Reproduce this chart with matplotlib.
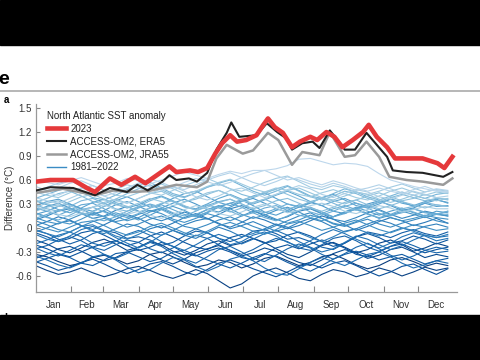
import numpy as np
import matplotlib
matplotlib.use("Agg")
import matplotlib.pyplot as plt
from matplotlib.patches import Rectangle
from matplotlib.lines import Line2D

plt.rcParams['font.family'] = ['Liberation Sans', 'DejaVu Sans']

# --- data (day of year / anomaly, degC) ---
red_days = [2, 14, 34, 46, 53, 66, 76, 88, 97, 107, 118, 124, 136, 143, 151, 158, 164, 171,
            177, 185, 194, 200, 204, 210, 217, 225, 232, 241, 247, 255, 262, 269, 278, 287,
            292, 299, 308, 315, 325, 339, 352, 358, 365]
red_vals = [0.58, 0.60, 0.60, 0.50, 0.45, 0.62, 0.54, 0.64, 0.56, 0.66, 0.77, 0.70, 0.72, 0.70,
            0.75, 0.93, 1.06, 1.16, 1.08, 1.10, 1.16, 1.29, 1.37, 1.26, 1.19, 1.01, 1.08, 1.14,
            1.10, 1.20, 1.14, 1.01, 1.10, 1.20, 1.29, 1.14, 1.01, 0.87, 0.87, 0.87, 0.81, 0.75, 0.89]

era5_days = [2, 14, 34, 53, 66, 81, 90, 99, 112, 118, 124, 135, 142, 151, 159, 168, 172, 179,
             194, 203, 212, 220, 225, 234, 243, 249, 258, 267, 271, 280, 290, 299, 308, 313,
             325, 339, 357, 365]
era5_vals = [0.47, 0.51, 0.50, 0.41, 0.50, 0.45, 0.54, 0.47, 0.58, 0.66, 0.60, 0.62, 0.58, 0.69,
             0.98, 1.19, 1.32, 1.14, 1.16, 1.31, 1.20, 1.12, 0.98, 1.06, 1.08, 1.00, 1.22, 1.06,
             0.98, 0.98, 1.19, 1.04, 0.89, 0.72, 0.70, 0.69, 0.64, 0.70]

jra55_days = [2, 25, 53, 69, 83, 99, 124, 142, 151, 159, 168, 173, 182, 191, 204, 213, 225,
              234, 249, 258, 271, 280, 290, 301, 310, 325, 339, 357, 365]
jra55_vals = [0.44, 0.49, 0.41, 0.47, 0.45, 0.46, 0.54, 0.51, 0.58, 0.87, 1.04, 1.00, 0.93,
              0.97, 1.19, 1.10, 0.79, 0.95, 0.91, 1.20, 0.89, 0.91, 1.08, 0.89, 0.64, 0.60,
              0.58, 0.54, 0.62]

# 1981-2022, one row per year, read every 10 days (day 1, 11, ..., 361)
hist_years = list(range(1981, 2023))
hist_days = list(range(1, 366, 10))
hist_vals = [
    [-0.33, -0.36, -0.42, -0.47, -0.44, -0.37, -0.34, -0.39, -0.45, -0.41, -0.33, -0.30, -0.36, -0.43, -0.49, -0.46, -0.40, -0.43, -0.50, -0.45, -0.38, -0.35, -0.41, -0.47, -0.43, -0.36, -0.33, -0.39, -0.46, -0.51, -0.47, -0.40, -0.37, -0.42, -0.48, -0.44, -0.47],
    [-0.47, -0.53, -0.58, -0.55, -0.50, -0.56, -0.61, -0.57, -0.51, -0.48, -0.53, -0.59, -0.63, -0.58, -0.52, -0.57, -0.66, -0.75, -0.70, -0.60, -0.54, -0.50, -0.56, -0.63, -0.66, -0.58, -0.52, -0.55, -0.61, -0.57, -0.50, -0.54, -0.60, -0.55, -0.49, -0.53, -0.50],
    [-0.15, -0.20, -0.27, -0.31, -0.25, -0.18, -0.14, -0.20, -0.28, -0.24, -0.17, -0.21, -0.29, -0.34, -0.28, -0.20, -0.16, -0.22, -0.19, -0.13, -0.18, -0.26, -0.33, -0.37, -0.30, -0.22, -0.18, -0.24, -0.31, -0.27, -0.19, -0.15, -0.21, -0.29, -0.25, -0.19, -0.23],
    [-0.38, -0.33, -0.26, -0.23, -0.29, -0.36, -0.41, -0.37, -0.30, -0.27, -0.33, -0.40, -0.45, -0.39, -0.31, -0.26, -0.22, -0.28, -0.35, -0.31, -0.25, -0.29, -0.37, -0.43, -0.47, -0.40, -0.32, -0.27, -0.31, -0.38, -0.34, -0.27, -0.24, -0.30, -0.37, -0.33, -0.36],
    [-0.42, -0.47, -0.53, -0.49, -0.43, -0.39, -0.45, -0.52, -0.57, -0.52, -0.45, -0.42, -0.48, -0.55, -0.59, -0.52, -0.44, -0.40, -0.45, -0.51, -0.56, -0.61, -0.55, -0.48, -0.45, -0.50, -0.44, -0.41, -0.47, -0.54, -0.60, -0.55, -0.48, -0.45, -0.52, -0.58, -0.51],
    [-0.21, -0.26, -0.32, -0.36, -0.30, -0.24, -0.19, -0.16, -0.22, -0.28, -0.24, -0.18, -0.23, -0.31, -0.35, -0.29, -0.25, -0.30, -0.37, -0.40, -0.33, -0.25, -0.21, -0.26, -0.20, -0.15, -0.19, -0.25, -0.33, -0.36, -0.30, -0.23, -0.20, -0.26, -0.31, -0.27, -0.24],
    [-0.06, -0.11, -0.17, -0.13, -0.06, -0.03, -0.09, -0.16, -0.22, -0.18, -0.10, -0.05, -0.11, -0.18, -0.24, -0.27, -0.20, -0.12, -0.08, -0.13, -0.19, -0.16, -0.09, -0.05, -0.10, -0.17, -0.23, -0.19, -0.11, -0.07, -0.12, -0.19, -0.16, -0.10, -0.14, -0.20, -0.15],
    [-0.43, -0.38, -0.33, -0.37, -0.44, -0.47, -0.40, -0.32, -0.30, -0.36, -0.42, -0.38, -0.30, -0.28, -0.34, -0.40, -0.45, -0.50, -0.44, -0.37, -0.32, -0.36, -0.43, -0.49, -0.54, -0.47, -0.39, -0.33, -0.29, -0.34, -0.40, -0.36, -0.33, -0.39, -0.45, -0.41, -0.38],
    [-0.03, -0.07, -0.14, -0.20, -0.15, -0.07, -0.03, -0.06, -0.13, -0.11, -0.15, -0.22, -0.18, -0.10, -0.04, -0.06, -0.13, -0.17, -0.12, -0.04, -0.02, -0.07, -0.14, -0.12, -0.17, -0.24, -0.27, -0.19, -0.11, -0.05, -0.08, -0.12, -0.06, -0.02, -0.07, -0.10, -0.05],
    [-0.26, -0.22, -0.15, -0.11, -0.16, -0.24, -0.28, -0.21, -0.15, -0.18, -0.26, -0.31, -0.25, -0.16, -0.09, -0.13, -0.21, -0.28, -0.33, -0.27, -0.19, -0.13, -0.17, -0.25, -0.28, -0.21, -0.13, -0.10, -0.16, -0.24, -0.29, -0.23, -0.17, -0.22, -0.28, -0.24, -0.27],
    [-0.25, -0.31, -0.35, -0.28, -0.21, -0.25, -0.33, -0.38, -0.32, -0.24, -0.18, -0.23, -0.32, -0.39, -0.44, -0.36, -0.27, -0.23, -0.30, -0.38, -0.42, -0.34, -0.26, -0.20, -0.25, -0.33, -0.39, -0.32, -0.24, -0.19, -0.26, -0.34, -0.40, -0.35, -0.28, -0.31, -0.29],
    [-0.35, -0.40, -0.46, -0.50, -0.44, -0.36, -0.33, -0.40, -0.49, -0.56, -0.52, -0.44, -0.37, -0.40, -0.48, -0.54, -0.48, -0.39, -0.35, -0.41, -0.50, -0.57, -0.59, -0.51, -0.43, -0.37, -0.42, -0.47, -0.40, -0.33, -0.30, -0.36, -0.44, -0.50, -0.46, -0.41, -0.44],
    [-0.20, -0.15, -0.09, -0.05, -0.11, -0.19, -0.23, -0.17, -0.08, -0.03, -0.09, -0.17, -0.23, -0.28, -0.21, -0.13, -0.08, -0.13, -0.20, -0.14, -0.07, -0.03, -0.09, -0.17, -0.24, -0.30, -0.26, -0.18, -0.10, -0.14, -0.21, -0.27, -0.22, -0.15, -0.09, -0.12, -0.10],
    [-0.08, -0.14, -0.17, -0.10, -0.02, 0.02, -0.04, -0.12, -0.19, -0.25, -0.18, -0.09, -0.03, -0.08, -0.01, -0.06, -0.13, -0.21, -0.17, -0.09, -0.05, -0.10, -0.18, -0.23, -0.16, -0.08, -0.02, -0.07, -0.14, -0.20, -0.25, -0.19, -0.11, -0.06, -0.10, -0.16, -0.13],
    [0.03, 0.08, 0.14, 0.10, 0.03, -0.02, 0.04, 0.11, 0.17, 0.12, 0.05, 0.00, 0.06, 0.13, 0.18, 0.12, 0.05, 0.01, 0.07, 0.14, 0.10, 0.04, -0.01, 0.03, 0.09, 0.15, 0.11, 0.04, -0.03, 0.02, 0.08, 0.13, 0.09, 0.03, 0.07, 0.12, 0.06],
    [-0.02, -0.07, -0.11, -0.05, 0.02, 0.04, -0.03, -0.10, -0.14, -0.08, -0.01, 0.03, -0.03, -0.09, -0.13, -0.06, 0.01, -0.04, -0.11, -0.07, -0.01, 0.05, 0.01, -0.06, -0.12, -0.17, -0.11, -0.04, -0.01, -0.06, -0.10, -0.05, 0.00, -0.04, -0.09, -0.12, -0.08],
    [-0.05, 0.00, 0.06, 0.09, 0.03, -0.04, -0.07, -0.01, 0.05, 0.02, -0.05, -0.09, -0.03, 0.04, 0.09, 0.12, 0.06, -0.01, 0.03, 0.08, 0.02, -0.04, 0.00, 0.07, 0.12, 0.08, 0.01, -0.05, -0.01, 0.05, 0.10, 0.06, 0.00, -0.03, 0.02, 0.05, 0.01],
    [0.10, 0.15, 0.21, 0.24, 0.18, 0.12, 0.15, 0.22, 0.27, 0.21, 0.13, 0.09, 0.14, 0.20, 0.15, 0.11, 0.17, 0.24, 0.28, 0.22, 0.15, 0.10, 0.14, 0.21, 0.24, 0.18, 0.11, 0.08, 0.13, 0.19, 0.23, 0.17, 0.12, 0.16, 0.21, 0.18, 0.15],
    [0.09, 0.04, -0.02, -0.05, 0.02, 0.08, 0.12, 0.07, 0.01, 0.05, 0.11, 0.15, 0.09, 0.02, -0.01, 0.04, 0.10, 0.14, 0.08, 0.02, -0.03, 0.03, 0.09, 0.15, 0.19, 0.12, 0.05, 0.02, 0.07, 0.11, 0.05, 0.01, 0.06, 0.10, 0.14, 0.09, 0.06],
    [0.04, -0.01, -0.05, 0.01, 0.07, 0.09, 0.03, -0.04, -0.09, -0.05, 0.02, 0.06, 0.00, -0.06, -0.10, -0.04, 0.03, 0.07, 0.02, -0.04, -0.08, -0.02, 0.05, 0.08, 0.03, -0.03, 0.01, 0.06, 0.10, 0.04, -0.02, -0.06, -0.01, 0.04, 0.01, -0.03, -0.01],
    [0.13, 0.08, 0.05, 0.11, 0.17, 0.20, 0.14, 0.08, 0.11, 0.17, 0.22, 0.18, 0.11, 0.07, 0.12, 0.18, 0.14, 0.09, 0.15, 0.21, 0.17, 0.11, 0.06, 0.10, 0.16, 0.12, 0.06, 0.03, 0.08, 0.14, 0.18, 0.13, 0.09, 0.12, 0.16, 0.13, 0.11],
    [0.19, 0.14, 0.08, 0.05, 0.11, 0.18, 0.21, 0.15, 0.09, 0.13, 0.20, 0.24, 0.18, 0.12, 0.16, 0.23, 0.28, 0.24, 0.17, 0.12, 0.16, 0.22, 0.26, 0.20, 0.13, 0.09, 0.14, 0.20, 0.24, 0.18, 0.12, 0.16, 0.21, 0.17, 0.13, 0.17, 0.15],
    [0.22, 0.27, 0.31, 0.25, 0.19, 0.16, 0.22, 0.29, 0.33, 0.27, 0.21, 0.25, 0.31, 0.36, 0.30, 0.23, 0.20, 0.26, 0.33, 0.37, 0.31, 0.24, 0.20, 0.26, 0.32, 0.28, 0.21, 0.18, 0.24, 0.30, 0.34, 0.28, 0.22, 0.25, 0.31, 0.27, 0.28],
    [0.17, 0.21, 0.27, 0.30, 0.24, 0.17, 0.14, 0.19, 0.15, 0.10, 0.16, 0.23, 0.27, 0.22, 0.15, 0.19, 0.26, 0.31, 0.35, 0.28, 0.20, 0.16, 0.22, 0.29, 0.25, 0.18, 0.14, 0.20, 0.26, 0.21, 0.16, 0.21, 0.25, 0.19, 0.15, 0.21, 0.19],
    [0.28, 0.33, 0.36, 0.30, 0.24, 0.21, 0.27, 0.34, 0.39, 0.33, 0.26, 0.30, 0.37, 0.43, 0.46, 0.39, 0.32, 0.28, 0.34, 0.40, 0.44, 0.37, 0.30, 0.26, 0.31, 0.38, 0.42, 0.35, 0.28, 0.25, 0.30, 0.36, 0.33, 0.27, 0.31, 0.35, 0.32],
    [0.34, 0.29, 0.23, 0.19, 0.25, 0.32, 0.36, 0.30, 0.25, 0.29, 0.36, 0.40, 0.34, 0.27, 0.24, 0.30, 0.37, 0.42, 0.36, 0.30, 0.35, 0.41, 0.46, 0.40, 0.33, 0.28, 0.33, 0.37, 0.31, 0.27, 0.32, 0.36, 0.31, 0.28, 0.33, 0.36, 0.31],
    [0.25, 0.21, 0.16, 0.22, 0.29, 0.31, 0.24, 0.17, 0.13, 0.18, 0.25, 0.29, 0.23, 0.17, 0.14, 0.20, 0.27, 0.31, 0.26, 0.19, 0.13, 0.09, 0.15, 0.22, 0.26, 0.20, 0.14, 0.18, 0.24, 0.28, 0.22, 0.16, 0.19, 0.24, 0.20, 0.17, 0.21],
    [0.12, 0.17, 0.22, 0.25, 0.19, 0.12, 0.09, 0.14, 0.21, 0.26, 0.29, 0.23, 0.16, 0.12, 0.17, 0.23, 0.27, 0.21, 0.15, 0.19, 0.25, 0.28, 0.22, 0.16, 0.13, 0.18, 0.24, 0.28, 0.23, 0.17, 0.13, 0.17, 0.23, 0.20, 0.15, 0.18, 0.17],
    [0.18, 0.13, 0.10, 0.16, 0.23, 0.26, 0.20, 0.14, 0.18, 0.25, 0.30, 0.26, 0.19, 0.15, 0.21, 0.28, 0.33, 0.36, 0.30, 0.23, 0.19, 0.24, 0.30, 0.27, 0.20, 0.16, 0.21, 0.27, 0.31, 0.25, 0.18, 0.15, 0.20, 0.24, 0.19, 0.17, 0.21],
    [0.37, 0.42, 0.47, 0.51, 0.45, 0.38, 0.35, 0.41, 0.48, 0.53, 0.57, 0.50, 0.43, 0.39, 0.44, 0.51, 0.56, 0.60, 0.53, 0.46, 0.41, 0.46, 0.52, 0.47, 0.40, 0.37, 0.43, 0.49, 0.45, 0.39, 0.35, 0.40, 0.45, 0.41, 0.37, 0.42, 0.44],
    [0.29, 0.24, 0.21, 0.27, 0.34, 0.37, 0.31, 0.24, 0.21, 0.27, 0.34, 0.39, 0.33, 0.26, 0.23, 0.29, 0.25, 0.20, 0.25, 0.32, 0.36, 0.30, 0.24, 0.27, 0.33, 0.37, 0.31, 0.25, 0.22, 0.28, 0.33, 0.29, 0.24, 0.27, 0.32, 0.29, 0.27],
    [0.32, 0.37, 0.43, 0.46, 0.40, 0.33, 0.30, 0.36, 0.43, 0.49, 0.54, 0.48, 0.41, 0.38, 0.44, 0.51, 0.55, 0.49, 0.42, 0.38, 0.43, 0.49, 0.53, 0.46, 0.39, 0.35, 0.40, 0.46, 0.43, 0.37, 0.33, 0.38, 0.42, 0.38, 0.34, 0.37, 0.36],
    [0.21, 0.26, 0.29, 0.23, 0.17, 0.20, 0.27, 0.32, 0.27, 0.20, 0.25, 0.31, 0.34, 0.28, 0.22, 0.26, 0.32, 0.36, 0.30, 0.24, 0.28, 0.34, 0.37, 0.31, 0.25, 0.21, 0.26, 0.32, 0.35, 0.29, 0.24, 0.28, 0.33, 0.29, 0.25, 0.29, 0.27],
    [0.26, 0.31, 0.34, 0.28, 0.22, 0.26, 0.32, 0.36, 0.31, 0.37, 0.43, 0.46, 0.39, 0.33, 0.36, 0.42, 0.47, 0.41, 0.35, 0.39, 0.45, 0.48, 0.42, 0.36, 0.32, 0.37, 0.34, 0.30, 0.35, 0.40, 0.44, 0.39, 0.34, 0.37, 0.42, 0.38, 0.35],
    [0.35, 0.30, 0.27, 0.33, 0.39, 0.42, 0.36, 0.29, 0.26, 0.31, 0.37, 0.33, 0.28, 0.32, 0.38, 0.44, 0.47, 0.41, 0.34, 0.31, 0.36, 0.42, 0.47, 0.50, 0.44, 0.38, 0.35, 0.40, 0.45, 0.42, 0.36, 0.32, 0.36, 0.41, 0.37, 0.34, 0.37],
    [0.45, 0.41, 0.38, 0.44, 0.50, 0.53, 0.47, 0.41, 0.39, 0.44, 0.50, 0.55, 0.49, 0.43, 0.46, 0.52, 0.57, 0.61, 0.55, 0.49, 0.45, 0.50, 0.47, 0.42, 0.39, 0.44, 0.48, 0.43, 0.38, 0.35, 0.40, 0.46, 0.50, 0.45, 0.41, 0.45, 0.43],
    [0.46, 0.51, 0.56, 0.59, 0.53, 0.46, 0.43, 0.48, 0.54, 0.50, 0.44, 0.41, 0.47, 0.53, 0.58, 0.62, 0.56, 0.49, 0.46, 0.51, 0.57, 0.62, 0.65, 0.58, 0.51, 0.48, 0.53, 0.50, 0.45, 0.42, 0.46, 0.51, 0.55, 0.50, 0.45, 0.48, 0.46],
    [0.27, 0.22, 0.17, 0.14, 0.19, 0.26, 0.29, 0.23, 0.17, 0.21, 0.16, 0.12, 0.17, 0.23, 0.28, 0.24, 0.18, 0.15, 0.20, 0.26, 0.30, 0.25, 0.19, 0.22, 0.28, 0.31, 0.27, 0.21, 0.18, 0.23, 0.28, 0.25, 0.20, 0.23, 0.27, 0.24, 0.24],
    [0.38, 0.34, 0.31, 0.37, 0.43, 0.46, 0.40, 0.34, 0.31, 0.37, 0.43, 0.49, 0.52, 0.46, 0.39, 0.35, 0.40, 0.47, 0.50, 0.44, 0.38, 0.42, 0.48, 0.53, 0.49, 0.42, 0.38, 0.43, 0.48, 0.45, 0.39, 0.36, 0.41, 0.46, 0.42, 0.38, 0.40],
    [0.52, 0.47, 0.50, 0.56, 0.59, 0.53, 0.47, 0.45, 0.50, 0.56, 0.61, 0.57, 0.51, 0.48, 0.54, 0.60, 0.65, 0.69, 0.63, 0.57, 0.53, 0.58, 0.64, 0.60, 0.55, 0.51, 0.56, 0.52, 0.47, 0.50, 0.54, 0.49, 0.44, 0.41, 0.45, 0.49, 0.47],
    [0.48, 0.44, 0.41, 0.47, 0.50, 0.45, 0.40, 0.44, 0.50, 0.56, 0.52, 0.47, 0.51, 0.57, 0.62, 0.58, 0.53, 0.57, 0.63, 0.68, 0.72, 0.66, 0.60, 0.63, 0.58, 0.54, 0.59, 0.55, 0.50, 0.46, 0.50, 0.46, 0.43, 0.48, 0.52, 0.47, 0.45],
    [0.60, 0.57, 0.54, 0.59, 0.63, 0.58, 0.53, 0.56, 0.62, 0.59, 0.55, 0.60, 0.65, 0.70, 0.66, 0.62, 0.67, 0.71, 0.68, 0.72, 0.72, 0.74, 0.78, 0.86, 0.87, 0.83, 0.79, 0.81, 0.80, 0.77, 0.68, 0.60, 0.56, 0.52, 0.49, 0.46, 0.45],
]

month_names = ["Jan", "Feb", "Mar", "Apr", "May", "Jun", "Jul", "Aug", "Sep", "Oct", "Nov", "Dec"]
month_starts = [1, 32, 60, 91, 121, 152, 182, 213, 244, 274, 305, 335, 366]
yticks = [-0.6, -0.3, 0, 0.3, 0.6, 0.9, 1.2, 1.5]
ytick_labels = ["-0.6", "-0.3", "0", "0.3", "0.6", "0.9", "1.2", "1.5"]

# --- figure ---
fig = plt.figure(figsize=(4.8, 3.6), dpi=100)
ax = fig.add_axes([0.075, 0.189, 0.877, 0.522])

colors = plt.cm.Blues(np.linspace(0.95, 0.28, len(hist_years)))
for i, yr in enumerate(hist_years):
    ax.plot(hist_days, hist_vals[i], color=colors[i], lw=0.8, zorder=1)

ax.plot(jra55_days, jra55_vals, color="#9a9a9a", lw=1.8, zorder=3)
ax.plot(era5_days, era5_vals, color="#222222", lw=1.5, zorder=4)
ax.plot(red_days, red_vals, color="#e5393b", lw=3.3, zorder=5)

ax.set_xlim(1.5, 369)
ax.set_ylim(-0.8, 1.55)

ax.set_xticks(month_starts[1:-1])
ax.set_xticklabels([])
mids = [(month_starts[k] + month_starts[k + 1]) / 2 for k in range(12)]
ax.set_xticks(mids, minor=True)
ax.set_xticklabels(month_names, minor=True)
ax.tick_params(axis="x", which="major", direction="in", length=4, color="#888888", width=0.8)
ax.tick_params(axis="x", which="minor", length=0, pad=6, labelsize=7, labelcolor="#333333")

ax.set_yticks(yticks)
ax.set_yticklabels(ytick_labels)
ax.tick_params(axis="y", direction="in", length=3, color="#888888", width=0.8, pad=3,
               labelsize=7, labelcolor="#333333")

for s in ["top", "right"]:
    ax.spines[s].set_visible(False)
for s in ["left", "bottom"]:
    ax.spines[s].set_color("#999999")
    ax.spines[s].set_linewidth(0.9)

ax.set_ylabel("Difference (°C)", fontsize=7, color="#333333")
ax.yaxis.set_label_coords(-0.05, 0.5)

handles = [Line2D([], [], color="#e5393b", lw=3.3),
           Line2D([], [], color="#222222", lw=1.5),
           Line2D([], [], color="#9a9a9a", lw=1.8),
           Line2D([], [], color="#3a8cc4", lw=1.0)]
labels = ["2023", "ACCESS-OM2, ERA5", "ACCESS-OM2, JRA55", "1981\u20132022"]
leg = ax.legend(handles, labels, title="North Atlantic SST anomaly", loc="upper left",
                bbox_to_anchor=(0.026, 0.965), frameon=False, fontsize=7, title_fontsize=7,
                borderpad=0, borderaxespad=0, handlelength=2.0, handletextpad=0.4,
                labelspacing=0.3, alignment="left")
for t in leg.get_texts():
    t.set_color("#222222")
leg.get_title().set_color("#222222")

# page decorations from the screenshot
fig.text(-0.003, 1 - 80 / 360, "e", fontsize=14, fontweight="bold", va="center", ha="left")
fig.text(0.008, 1 - 100 / 360, "a", fontsize=7, fontweight="bold", va="center", ha="left")
fig.text(0.008, 1 - 318 / 360, "b", fontsize=8, fontweight="bold", va="center", ha="left")
fig.add_artist(Line2D([0, 1], [1 - 91 / 360] * 2, color="#aaaaaa", lw=1.2,
                      transform=fig.transFigure))
fig.add_artist(Rectangle((0, 1 - 45 / 360), 1, 45 / 360, color="black",
                         transform=fig.transFigure, zorder=10))
fig.add_artist(Rectangle((0, 0), 1, 45 / 360, color="black",
                         transform=fig.transFigure, zorder=10))

fig.savefig("out.png", dpi=100)
